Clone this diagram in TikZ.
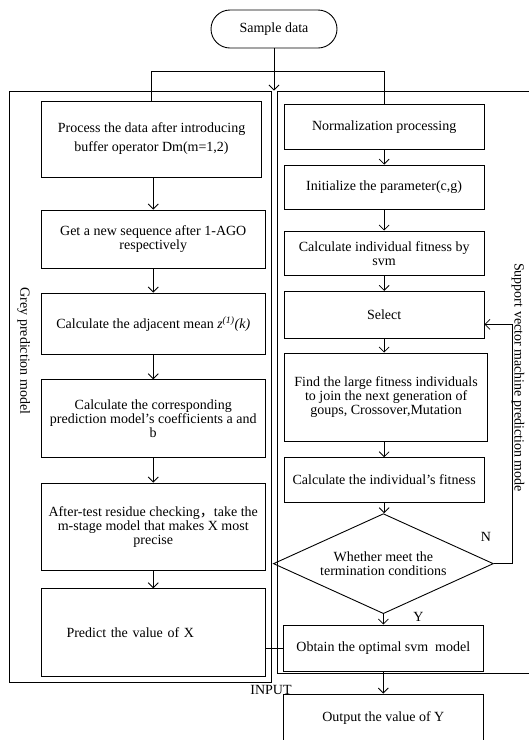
\documentclass[tikz,border=0pt]{standalone}
\usepackage{fontspec}
\setmainfont{Liberation Serif}
\newfontfamily\cjkfont{Noto Sans CJK SC}
\usetikzlibrary{arrows.meta,shapes.geometric}
\begin{document}
\begin{tikzpicture}[x=1pt,y=-1pt,
  every node/.style={font=\fontsize{14}{14}\selectfont},
  box/.style={draw,line width=0.9pt,align=center,inner sep=0pt},
  frm/.style={draw,line width=0.9pt,inner sep=0pt},
  lnk/.style={line width=0.9pt},
  arr/.style={lnk,-{Straight Barb[length=5pt,width=10pt,line width=0.8pt]}},
  lbl/.style={inner sep=0pt}]
\useasboundingbox (0,0) rectangle (529,740);

% start
\node[box,rounded corners=19pt,minimum width=126pt,minimum height=38pt] (sd) at (274,29) {Sample data};

% frames
\node[frm,minimum width=262pt,minimum height=591pt] (gf) at (140,386.5) {};
\node[frm,minimum width=270pt,minimum height=582.5pt] (sf) at (412.7,382.25) {};

% grey model boxes
\node[box,minimum width=220.1pt,minimum height=76pt,font=\fontsize{14}{19}\selectfont] (b1) at (151.55,139)
  {Process the data after introducing\\buffer operator Dm(m=1,2)};
\node[box,minimum width=223.5pt,minimum height=58.7pt] (b2) at (153.25,239.35)
  {Get a new sequence after 1-AGO\\respectively};
\node[box,minimum width=223.5pt,minimum height=61.7pt] (b3) at (153.25,323.85)
  {Calculate the adjacent mean \textit{z}\textsuperscript{\textit{(1)}}\textit{(k)}};
\node[box,minimum width=223.5pt,minimum height=78pt] (b4) at (153.25,418.7)
  {Calculate the corresponding\\prediction model’s coefficients a and\\b};
\node[box,minimum width=223.5pt,minimum height=87.4pt] (b5) at (153.25,526.7)
  {After-test residue checking{\cjkfont ，}take the\\m-stage model that makes X most\\precise};
\node[box,align=left,text width=173.5pt,inner xsep=25pt,minimum height=88.1pt] (b6) at (153.25,632.75)
  {Predict the value of X};

% svm boxes
\node[box,minimum width=199.7pt,minimum height=45pt] (r1) at (384.15,126.8) {Normalization processing};
\node[box,minimum width=199.7pt,minimum height=44.3pt] (r2) at (384.15,187.2) {Initialize the parameter(c,g)};
\node[box,minimum width=199.7pt,minimum height=44.4pt] (r3) at (384.15,253.2) {Calculate individual fitness by\\svm};
\node[box,minimum width=199.7pt,minimum height=47.2pt] (r4) at (384.15,314.9) {Select};
\node[box,minimum width=203.2pt,minimum height=88.5pt] (r5) at (386.1,397.25)
  {Find the large fitness individuals\\to join the next generation of\\goups, Crossover,Mutation};
\node[box,minimum width=199.7pt,minimum height=44.3pt] (r6) at (384.15,479.85) {Calculate the individual’s fitness};
\node[box,diamond,aspect=2.2,minimum width=220pt,minimum height=100pt,font=\fontsize{14}{14}\selectfont] (dm) at (383.4,563.65)
  {Whether meet the\\termination conditions};
\node[box,minimum width=200pt,minimum height=46.7pt] (r7) at (383.3,648.35) {Obtain the optimal svm~ model};
\node[box,minimum width=200pt,minimum height=48.6pt] (r8) at (383.3,718.3) {Output the value of Y};

% labels
\node[lbl,rotate=-90] (gl) at (23.6,351) {Grey prediction model};
\node[lbl,rotate=-90] (sl) at (518,377.5) {Support vector machine prediction mode};
\node[lbl] (nl) at (486,537) {N};
\node[lbl] (yl) at (418.5,617) {Y};
\node[lbl] (il) at (271,690) {INPUT};

% connectors
\coordinate (br) at (274,71.7);
\draw[lnk] (b1.north) |- (br) -| (r1.north);
\draw[arr] (sd.south) -- (sd.south |- gf.north);

\draw[arr] (b2.north |- b1.south) -- (b2.north);
\draw[arr] (b2.south) -- (b3.north);
\draw[arr] (b3.south) -- (b4.north);
\draw[arr] (b4.south) -- (b5.north);
\draw[arr] (b5.south) -- (b6.north);

\draw[arr] (r1.south) -- (r2.north);
\draw[arr] (r2.south) -- (r3.north);
\draw[arr] (r3.south) -- (r4.north);
\draw[arr] (r4.south) -- (r4.south |- r5.north);
\draw[arr] (r4.south |- r5.south) -- (r4.south |- r6.north);
\draw[arr] (r6.south) -- (r6.south |- dm.north);
\draw[arr] (dm.south) -- (dm.south |- r7.north);
\draw[arr] (r7.south) -- (r7.south |- r8.north);

\coordinate (fb) at (512,324.4);
\draw[arr] (dm.east) -| (fb) -- (r4.east |- fb);

\draw[lnk] (r7.west -| b6.east) -- (r7.west);
\end{tikzpicture}
\end{document}
